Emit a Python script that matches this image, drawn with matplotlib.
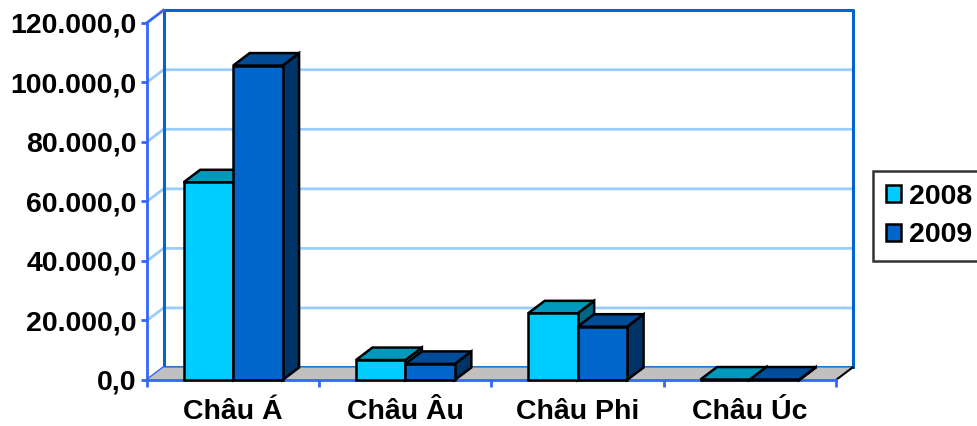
import matplotlib.pyplot as plt
from matplotlib.patches import Patch, Polygon, Rectangle
from matplotlib.ticker import FuncFormatter

categories = ["Châu Á", "Châu Âu", "Châu Phi", "Châu Úc"]
series_names = ["2008", "2009"]
values_2008 = [66400, 6700, 22400, 150]
values_2009 = [105600, 5400, 17900, 150]
y_ticks = [0, 20000, 40000, 60000, 80000, 100000, 120000]

# front, top, side shades for each series
colors = [
    ("#00CCFF", "#0099BB", "#006680"),
    ("#0066CC", "#004C99", "#003366"),
]
AXIS_BLUE = "#3366FF"
WALL_BLUE = "#0066CC"
GRID_BLUE = "#99CCFF"

plt.rcParams["font.family"] = ["Liberation Sans", "DejaVu Sans"]
plt.rcParams["font.weight"] = "bold"


def vn_number(v, pos=None):
    s = f"{v:,.1f}"
    return s.replace(",", "X").replace(".", ",").replace("X", ".")


fig = plt.figure(figsize=(9.78, 4.26), dpi=100)
ax = fig.add_axes([147 / 978, 1 - 380 / 426, 689 / 978, 357.3 / 426])

x0, x1 = -0.5, len(categories) - 0.5
ymax = y_ticks[-1]
ax.set_xlim(x0, x1)
ax.set_ylim(0, ymax)

# depth offset of the 3D box, in data units
dx = 0.096
dy = 4200

# floor
ax.add_patch(Polygon([(x0, 0), (x1, 0), (x1 + dx, dy), (x0 + dx, dy)],
                     closed=True, facecolor="#C0C0C0", edgecolor="none",
                     zorder=1, clip_on=False))
ax.plot([x1, x1 + dx], [0, dy], color="black", lw=1.5, zorder=1.5, clip_on=False)

# back wall + gridlines
ax.add_patch(Rectangle((x0 + dx, dy), x1 - x0, ymax, facecolor="white",
                       edgecolor="none", zorder=0.5, clip_on=False))
for v in y_ticks[1:-1]:
    ax.plot([x0, x0 + dx, x1 + dx], [v, v + dy, v + dy], color=GRID_BLUE,
            lw=2, zorder=0.8, clip_on=False)
ax.plot([x0 + dx, x1 + dx], [dy, dy], color=WALL_BLUE, lw=2, zorder=0.9, clip_on=False)
ax.plot([x0 + dx, x0 + dx, x1 + dx, x1 + dx], [dy, ymax + dy, ymax + dy, dy],
        color=WALL_BLUE, lw=2.2, zorder=0.9, clip_on=False)
ax.plot([x0, x0 + dx], [ymax, ymax + dy], color=AXIS_BLUE, lw=2, zorder=0.9, clip_on=False)
ax.plot([x0, x0 + dx], [0, dy], color=AXIS_BLUE, lw=2, zorder=0.9, clip_on=False)

# bars with top and side faces
w = 0.287
for s, vals in enumerate([values_2008, values_2009]):
    front, top, side = colors[s]
    for i, v in enumerate(vals):
        left = i - w + s * w
        z = 2 + s + i * 0.1
        ax.add_patch(Polygon([(left + w, 0), (left + w + dx, dy),
                              (left + w + dx, v + dy), (left + w, v)],
                             closed=True, facecolor=side, edgecolor="black",
                             lw=1.8, zorder=z, clip_on=False))
        ax.add_patch(Polygon([(left, v), (left + w, v), (left + w + dx, v + dy),
                              (left + dx, v + dy)],
                             closed=True, facecolor=top, edgecolor="black",
                             lw=1.8, zorder=z, clip_on=False))
        ax.bar(left, v, width=w, align="edge", color=front, edgecolor="black",
               lw=1.8, zorder=z, clip_on=False)

# axes styling
for side_name in ["top", "right"]:
    ax.spines[side_name].set_visible(False)
for side_name in ["left", "bottom"]:
    ax.spines[side_name].set_color(AXIS_BLUE)
    ax.spines[side_name].set_linewidth(2)
    ax.spines[side_name].set_zorder(1.8)

ax.set_yticks(y_ticks)
ax.yaxis.set_major_formatter(FuncFormatter(vn_number))
ax.tick_params(axis="y", colors=AXIS_BLUE, width=2, length=4.5, pad=3,
               labelsize=20.5, labelcolor="black")

ax.set_xticks(range(len(categories)))
ax.set_xticklabels(categories)
ax.set_xticks([x0 + k for k in range(len(categories) + 1)], minor=True)
ax.tick_params(axis="x", which="major", length=0, pad=14, labelsize=20.5,
               labelcolor="black")
ax.tick_params(axis="x", which="minor", colors=AXIS_BLUE, width=2, length=5)
ax.patch.set_visible(False)

handles = [Patch(facecolor=colors[k][0], edgecolor="black", lw=1.8,
                 label=series_names[k]) for k in range(2)]
leg = fig.legend(handles=handles, loc="center left",
                 bbox_to_anchor=(873 / 978, 1 - 216 / 426), fontsize=20.5,
                 frameon=True, fancybox=False, handlelength=0.55,
                 handleheight=0.55, handletextpad=0.25, borderpad=0.45,
                 labelspacing=0.45, borderaxespad=0)
leg.get_frame().set_edgecolor("black")
leg.get_frame().set_linewidth(1.8)
for t in leg.get_texts():
    t.set_fontweight("bold")

fig.savefig("out.png", dpi=100)
